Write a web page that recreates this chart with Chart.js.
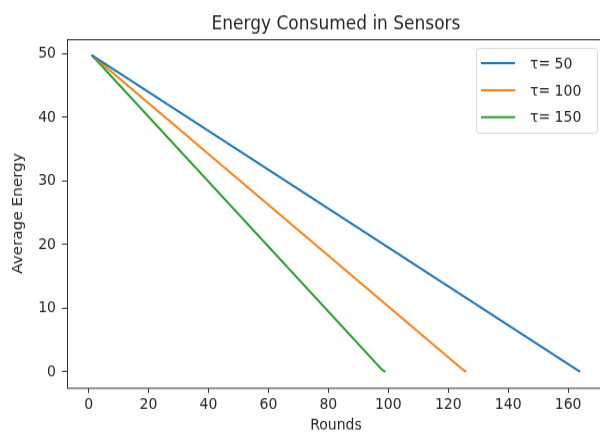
<!DOCTYPE html>
<html>
<head>
<meta charset="utf-8">
<script src="https://cdn.jsdelivr.net/npm/chart.js@4.4.0/dist/chart.umd.min.js"></script>
<style>
  html, body { margin: 0; padding: 0; background: #fff; overflow: hidden; width: 600px; height: 435px; }
  /* the reference figure is stretched a little taller than wide */
  canvas { display: block; transform: scale(1, 1.0875); transform-origin: 0 0; }
</style>
</head>
<body>
<canvas id="energyChart" width="612" height="400" style="width:612px;height:400px"></canvas>
<script>
// values
var labels = ['τ= 50', 'τ= 100', 'τ= 150'];
var colors = ['#1f77b4', '#ff7f0e', '#2ca02c'];
var tau50 = [{x: 1, y: 49.8}, {x: 164, y: 0}];
var tau100 = [{x: 1, y: 49.8}, {x: 125, y: 0.3}, {x: 126, y: 0}];
var tau150 = [{x: 1, y: 49.8}, {x: 98, y: 0.3}, {x: 99, y: 0}];
var xTicks = [0, 20, 40, 60, 80, 100, 120, 140, 160];
var yTicks = [0, 10, 20, 30, 40, 50];

var FONT = 'DejaVu Sans';
var INK = '#262626';

// title centred over the plot area, frame, and an inside legend (matplotlib look)
var mplDecor = {
    id: 'mplDecor',
    afterDraw: function (chart) {
        var ctx = chart.ctx;
        var a = chart.chartArea;
        ctx.save();
        ctx.strokeStyle = '#333';
        ctx.lineWidth = 1;
        ctx.strokeRect(a.left + 0.5, a.top + 0.5, a.right - a.left, a.bottom - a.top);

        ctx.fillStyle = INK;
        ctx.font = '17px "' + FONT + '"';
        ctx.textAlign = 'center';
        ctx.textBaseline = 'alphabetic';
        ctx.fillText('Energy Consumed in Sensors', (a.left + a.right) / 2, 26.7);

        // legend box
        var bx = 476, by = 44, bw = 121, bh = 78;
        ctx.fillStyle = 'rgba(255,255,255,0.8)';
        ctx.strokeStyle = '#d6d6d6';
        ctx.lineWidth = 1;
        ctx.beginPath();
        if (ctx.roundRect) {
            ctx.roundRect(bx + 0.5, by + 0.5, bw, bh, 3);
        } else {
            ctx.rect(bx + 0.5, by + 0.5, bw, bh);
        }
        ctx.fill();
        ctx.stroke();

        ctx.font = '14px "' + FONT + '"';
        ctx.textAlign = 'left';
        ctx.textBaseline = 'middle';
        chart.data.datasets.forEach(function (ds, i) {
            var ly = 58 + i * 24.9;
            ctx.strokeStyle = ds.borderColor;
            ctx.lineWidth = 2;
            ctx.beginPath();
            ctx.moveTo(481, ly);
            ctx.lineTo(515, ly);
            ctx.stroke();
            ctx.fillStyle = INK;
            ctx.fillText(ds.label, 530, ly + 1);
        });
        ctx.restore();
    }
};

var ctx = document.getElementById('energyChart').getContext('2d');
var energyChart = new Chart(ctx, {
    type: 'line',
    data: {
        datasets: [
            {label: labels[0], data: tau50, borderColor: colors[0], backgroundColor: colors[0]},
            {label: labels[1], data: tau100, borderColor: colors[1], backgroundColor: colors[1]},
            {label: labels[2], data: tau150, borderColor: colors[2], backgroundColor: colors[2]}
        ]
    },
    options: {
        responsive: false,
        animation: false,
        devicePixelRatio: 1,
        layout: {padding: {top: 36, right: 7, left: 0, bottom: 0}},
        elements: {
            line: {borderWidth: 2, tension: 0, fill: false},
            point: {radius: 0}
        },
        plugins: {
            legend: {display: false},
            title: {display: false},
            tooltip: {enabled: false}
        },
        scales: {
            x: {
                type: 'linear',
                min: -7.2,
                max: 172.3,
                afterFit: function (s) { s.height = 43.5; },
                afterBuildTicks: function (s) {
                    s.ticks = xTicks.map(function (v) { return {value: v}; });
                },
                grid: {drawOnChartArea: false, tickLength: 4.8, tickColor: '#333'},
                border: {display: false},
                ticks: {color: INK, font: {family: FONT, size: 14}, padding: 3, maxRotation: 0},
                title: {display: true, text: 'Rounds', color: INK, font: {family: FONT, size: 14}, padding: {top: 0, bottom: 0}}
            },
            y: {
                min: -2.49,
                max: 52.29,
                afterFit: function (s) { s.width = 67; },
                afterBuildTicks: function (s) {
                    s.ticks = yTicks.map(function (v) { return {value: v}; });
                },
                grid: {drawOnChartArea: false, tickLength: 5, tickColor: '#333'},
                border: {display: false},
                ticks: {color: INK, font: {family: FONT, size: 14}, padding: 6},
                title: {display: true, text: 'Average Energy', color: INK, font: {family: FONT, size: 14}, padding: {top: 10, bottom: 0}}
            }
        }
    },
    plugins: [mplDecor]
});
</script>
</body>
</html>
